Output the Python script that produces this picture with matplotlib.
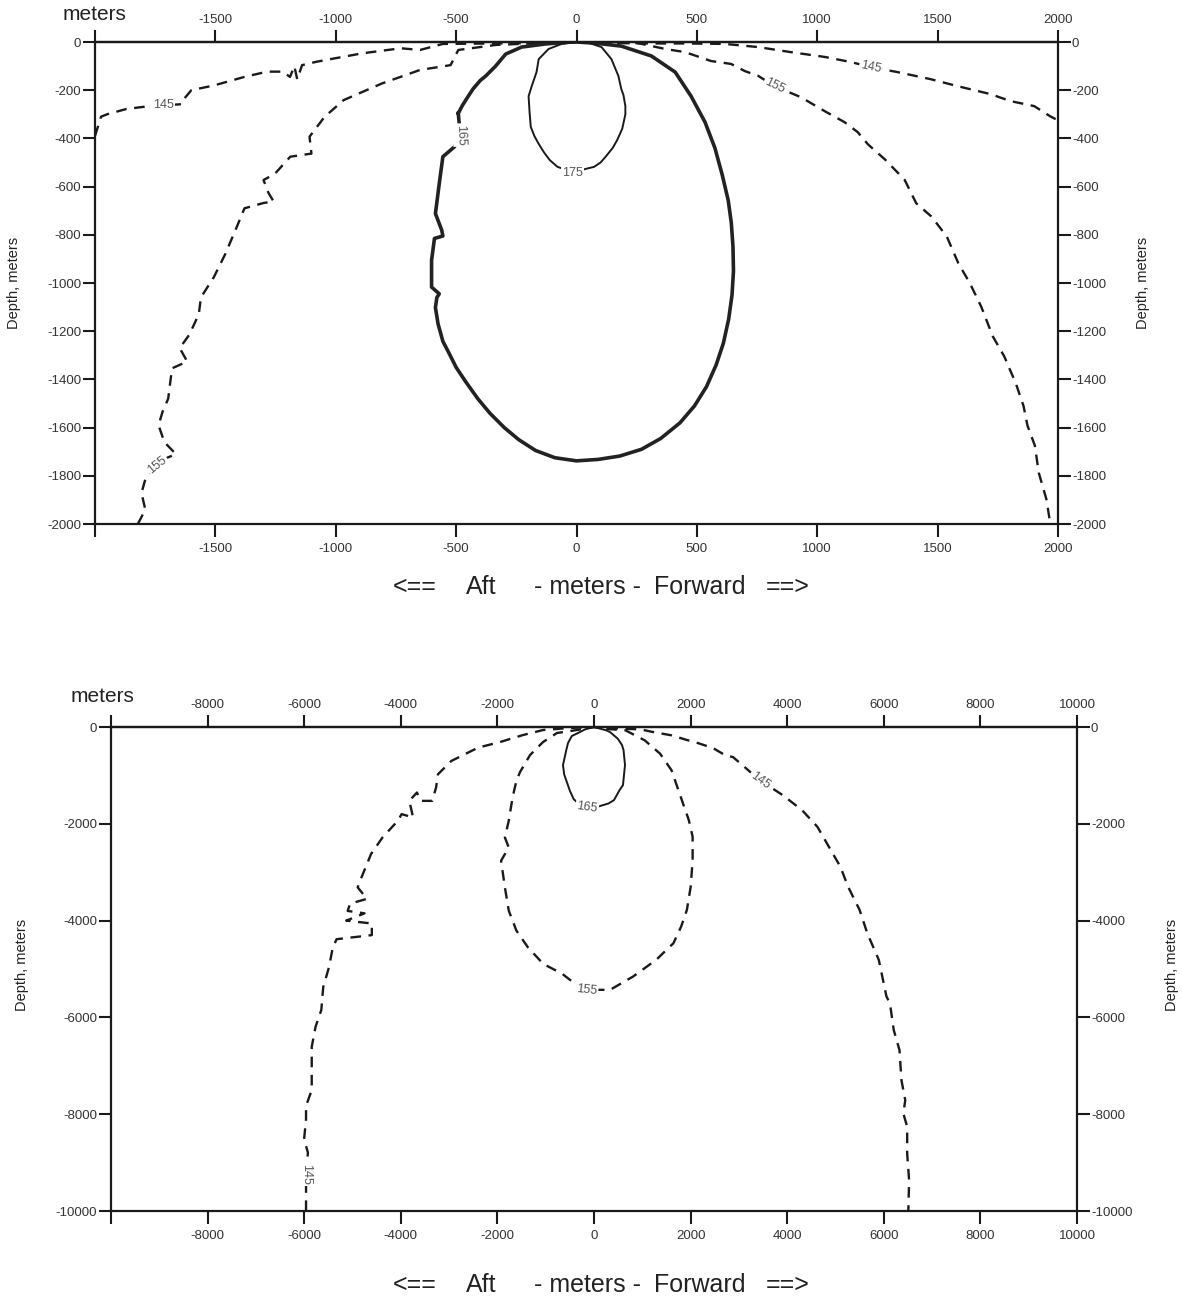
import matplotlib
matplotlib.use('Agg')
import matplotlib.pyplot as plt

plt.rcParams['font.family'] = ['Liberation Sans', 'DejaVu Sans']

# ---------------- top panel (metres) ----------------
top_xticks = [-2000, -1500, -1000, -500, 0, 500, 1000, 1500, 2000]
top_xticklabels = ['', '-1500', '-1000', '-500', '0', '500', '1000', '1500', '2000']
top_yticks = [0, -200, -400, -600, -800, -1000, -1200, -1400, -1600, -1800, -2000]
top_yticklabels = ['0', '-200', '-400', '-600', '-800', '-1000', '-1200', '-1400', '-1600', '-1800', '-2000']

top_145_x = [-2000, -1975, -1950, -1870, -1790, -1700, -1640, -1625, -1600, -1505, -1380, -1285,
             -1220, -1190, -1172, -1160, -1140, -1080, -1005, -890, -730, -650, -555, -330, -100,
             0, 150, 300, 450, 617, 754, 890, 1031, 1139, 1222, 1334, 1470, 1582, 1719, 1802,
             1901, 1967, 2000]
top_145_y = [-390, -310, -300, -278, -268, -262, -258, -230, -200, -180, -145, -123,
             -123, -145, -100, -155, -96, -82, -68, -47, -26, -33, -8, -6, -4,
             0, -4, -6, -6, -8, -21, -42, -62, -83, -104, -125, -154, -183, -216, -245,
             -266, -308, -325]

top_155_x = [-1822, -1791, -1807, -1791, -1745, -1700, -1664, -1712, -1736, -1720, -1696, -1680,
             -1617, -1648, -1608, -1569, -1560, -1506, -1458, -1411, -1379, -1300, -1258, -1280,
             -1300, -1252, -1189, -1101, -1109, -1046, -967, -808, -650, -523, -491, -333, -111,
             0, 150, 257, 369, 451, 559, 642, 700, 754, 822, 932, 1031, 1114, 1168, 1210, 1283,
             1363, 1411, 1474, 1538, 1586, 1634, 1681, 1729, 1777, 1825, 1857, 1873, 1904, 1920,
             1952, 1968]
top_155_y = [-2000, -1940, -1871, -1815, -1760, -1725, -1710, -1660, -1590, -1536, -1480, -1354,
             -1326, -1270, -1214, -1130, -1060, -975, -878, -767, -690, -668, -662, -625,
             -573, -546, -476, -463, -393, -310, -241, -172, -116, -96, -33, -12, -3,
             0, -3, -5, -29, -42, -79, -91, -121, -140, -183, -229, -287, -333, -374, -424, -489,
             -572, -669, -724, -807, -918, -1001, -1098, -1221, -1305, -1417, -1511, -1591, -1675, -1787,
             -1898, -2000]

top_165_x = [-491, -475, -460, -430, -400, -377, -336, -294, -228, -128, -33, 0, 80, 186, 311,
             410, 476, 534, 575, 605, 630, 643, 650, 652, 646, 632, 610, 580, 540, 490, 430,
             350, 270, 180, 90, 0, -90, -170, -240, -300, -360, -410, -460, -500, -530, -555,
             -575, -586, -580, -570, -602, -602, -590, -555, -560, -586, -570, -555, -507, -483,
             -491]
top_165_y = [-296, -265, -241, -195, -160, -141, -100, -50, -21, -8, -1, 0, -5, -17, -58,
             -125, -225, -333, -440, -550, -656, -750, -850, -950, -1050, -1150, -1250, -1340, -1430, -1510, -1580,
             -1645, -1690, -1718, -1732, -1738, -1725, -1695, -1650, -1600, -1540, -1480, -1410, -1350, -1290, -1242,
             -1170, -1102, -1060, -1045, -1017, -906, -815, -805, -780, -712, -587, -476, -435, -386,
             -296]

top_175_x = [0, -62, -116, -157, -166, -186, -199, -195, -190, -175, -158, -135, -111, -79, -16,
             73, 100, 121, 150, 169, 190, 203, 203, 195, 186, 174, 145, 104, 50, 0]
top_175_y = [0, -8, -29, -71, -125, -183, -225, -290, -352, -390, -421, -458, -490, -518, -540,
             -518, -500, -476, -440, -407, -360, -300, -266, -220, -195, -141, -71, -21, -3, 0]

top_label_text = ['145', '145', '155', '155', '165', '175']
top_label_x = [-1715, 1222, 822, -1740, -483, -16]
top_label_y = [-262, -104, -183, -1755, -386, -545]
top_label_rot = [0, -12, -26, 39, -88, 0]

# ---------------- bottom panel (metres) ----------------
bot_xticks = [-10000, -8000, -6000, -4000, -2000, 0, 2000, 4000, 6000, 8000, 10000]
bot_xticklabels = ['', '-8000', '-6000', '-4000', '-2000', '0', '2000', '4000', '6000', '8000', '10000']
bot_yticks = [0, -2000, -4000, -6000, -8000, -10000]
bot_yticklabels = ['0', '-2000', '-4000', '-6000', '-8000', '-10000']

bot_145_x = [-5962, -5962, -5962, -5923, -6002, -5962, -5962, -5844, -5844, -5844, -5765, -5646,
             -5606, -5487, -5407, -5329, -4600, -4600, -5130, -4750, -5100, -5050, -4700, -4893,
             -4814, -4616, -4379, -4062, -3983, -3745, -3824, -3666, -3587, -3349, -3270, -3230,
             -2953, -2399, -1946, -1470, -1053, -500, 0,
             500, 969, 1222, 1605, 1925, 2082, 2464, 2718, 2878, 3115, 3433, 3909, 4307, 4625,
             4863, 5101, 5260, 5499, 5658, 5896, 6055, 6127, 6206, 6325, 6365, 6444, 6405, 6484,
             6484, 6524, 6508]
bot_145_y = [-10000, -9814, -9241, -8793, -8517, -8103, -7828, -7503, -7090, -6607, -6193, -5848,
             -5375, -4962, -4550, -4384, -4300, -4060, -4000, -3850, -3800, -3650, -3550, -3313,
             -3107, -2625, -2282, -1938, -1800, -1869, -1526, -1354, -1526, -1526, -1251, -976,
             -701, -426, -311, -166, -62, -20, 0,
             -30, -50, -104, -172, -269, -309, -435, -584, -621, -825, -1100, -1409, -1718, -2062,
             -2474, -2887, -3299, -3780, -4261, -4811, -5567, -5710, -6262, -6676, -7297, -7710, -7986, -8262,
             -8814, -9366, -10000]

bot_155_x = [-150, -400, -657, -1053, -1370, -1607, -1765, -1845, -1924, -1765, -1845, -1765, -1686,
             -1607, -1532, -1325, -1056, -766, -352, 0, 175, 652, 1049, 1367, 1605, 1724, 1843,
             1963, 2042, 2042, 2002, 1923, 1804, 1645, 1287, 810, 334, -150]
bot_155_y = [-5430, -5300, -5100, -4893, -4550, -4206, -3794, -3313, -2763, -2488, -2282, -1938, -1457,
             -1113, -932, -580, -311, -124, -62, 0, -34, -69, -275, -550, -893, -1237, -1581,
             -1924, -2268, -2749, -3299, -3780, -4124, -4467, -4811, -5155, -5430, -5430]

bot_165_x = [-143, -300, -420, -499, -618, -642, -578, -538, -459, -290, -182, 0, 254, 331, 492,
             580, 612, 642, 620, 600, 532, 413, 300, 100, -143]
bot_165_y = [-1663, -1600, -1491, -1320, -976, -787, -495, -331, -186, -104, -48, 0, -69, -104, -241,
             -373, -481, -787, -1000, -1201, -1300, -1512, -1580, -1640, -1663]

bot_label_text = ['145', '145', '155', '165']
bot_label_x = [3433, -5962, -150, -143]
bot_label_y = [-1100, -9241, -5430, -1663]
bot_label_rot = [-36, -90, -6, -8]

xlabel_parts = ['<==', 'Aft', '- meters -', 'Forward', '==>']

# ---------------- figure ----------------
W, H = 1182, 1301
fig = plt.figure(figsize=(W / 100, H / 100), dpi=100)
fig.patch.set_facecolor('white')

ax1 = fig.add_axes([95 / W, 1 - 524 / H, 963 / W, 482 / H])
ax2 = fig.add_axes([111 / W, 1 - 1211 / H, 966 / W, 484 / H])

ink = '#1a1a1a'
dash = (0, (4.5, 3.2))
tick_kw = dict(direction='out', length=9, width=1.5, color=ink, labelsize=9.5, labelcolor='#333333')


def style_axes(ax, xt, xtl, yt, ytl, xlim, ylim):
    ax.set_xlim(*xlim)
    ax.set_ylim(*ylim)
    ax.set_xticks(xt)
    ax.set_xticklabels(xtl)
    ax.set_yticks(yt)
    ax.set_yticklabels(ytl)
    for s in ax.spines.values():
        s.set_linewidth(1.6)
        s.set_color(ink)
    ax.tick_params(axis='both', which='both', top=False, bottom=True, left=True, right=True,
                   labeltop=False, labelbottom=True, labelleft=True, labelright=True, **tick_kw)
    ax.tick_params(axis='x', pad=5)
    ax.tick_params(axis='y', pad=1)
    sec = ax.secondary_xaxis('top')
    sec.set_xticks(xt)
    sec.set_xticklabels(xtl)
    sec.tick_params(axis='x', pad=2.5, **tick_kw)
    sec.spines['top'].set_linewidth(1.6)
    sec.spines['top'].set_color(ink)


def draw_labels(ax, texts, xs, ys, rots):
    for t, x, y, r in zip(texts, xs, ys, rots):
        ax.text(x, y, t, rotation=r, ha='center', va='center', fontsize=9, color='#555555',
                rotation_mode='anchor', zorder=5,
                bbox=dict(boxstyle='square,pad=0.1', fc='white', ec='none'))


style_axes(ax1, top_xticks, top_xticklabels, top_yticks, top_yticklabels, (-2000, 2000), (-2000, 0))
ax1.plot(top_145_x, top_145_y, color=ink, lw=1.7, linestyle=dash)
ax1.plot(top_155_x, top_155_y, color=ink, lw=1.7, linestyle=dash)
ax1.plot(top_165_x, top_165_y, color='#222222', lw=2.6, solid_joinstyle='round')
ax1.plot(top_175_x, top_175_y, color=ink, lw=1.4, solid_joinstyle='round')
draw_labels(ax1, top_label_text, top_label_x, top_label_y, top_label_rot)

style_axes(ax2, bot_xticks, bot_xticklabels, bot_yticks, bot_yticklabels, (-10000, 10000), (-10000, 0))
ax2.plot(bot_145_x, bot_145_y, color=ink, lw=1.7, linestyle=dash)
ax2.plot(bot_155_x, bot_155_y, color=ink, lw=1.7, linestyle=dash)
ax2.plot(bot_165_x, bot_165_y, color=ink, lw=1.4, solid_joinstyle='round')
draw_labels(ax2, bot_label_text, bot_label_x, bot_label_y, bot_label_rot)

# texts
part_centers = [415, 481, 588, 700, 788]
for ycen in (587, 1285):
    for part, xc in zip(xlabel_parts, part_centers):
        fig.text(xc / W, 1 - ycen / H, part, ha='center', va='center', fontsize=18, color='#222222')
fig.text(95 / W, 1 - 15 / H, 'meters', ha='center', va='center', fontsize=15, color='#222222')
fig.text(102 / W, 1 - 697 / H, 'meters', ha='center', va='center', fontsize=15, color='#222222')
for (x, y) in [(14, 283), (1143, 283), (22, 965), (1172, 965)]:
    fig.text(x / W, 1 - y / H, 'Depth, meters', rotation=90, ha='center', va='center',
             fontsize=10.5, color='#222222')

fig.savefig('out.png', dpi=100, facecolor='white')
